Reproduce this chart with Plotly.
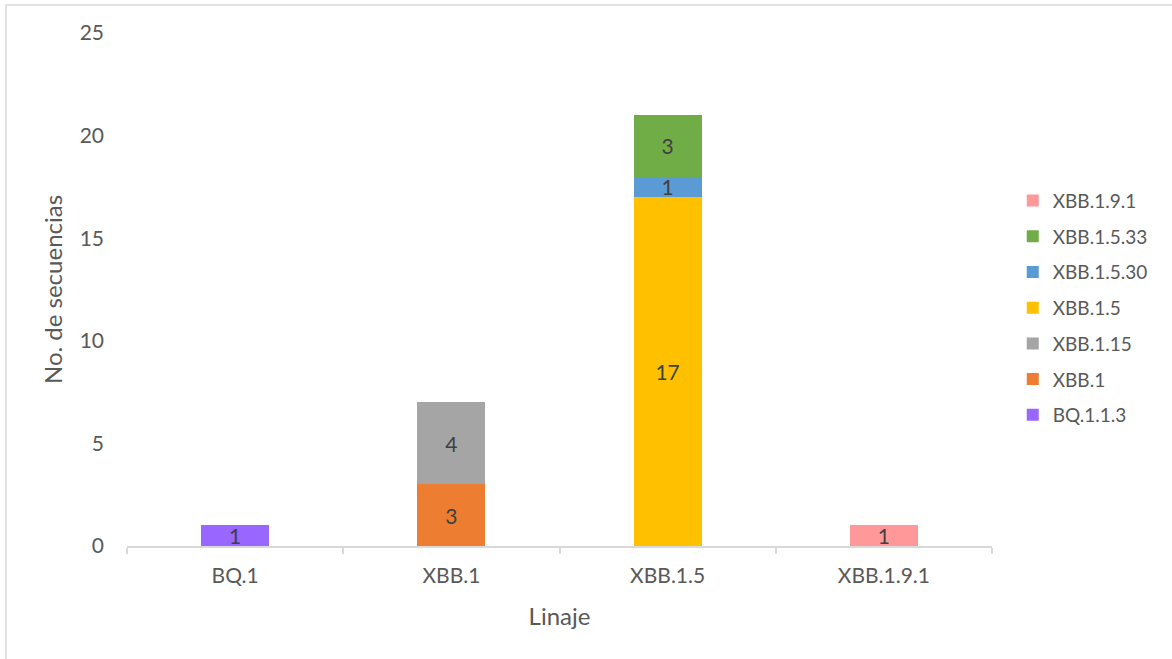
import plotly.graph_objects as go

categories = ["BQ.1", "XBB.1", "XBB.1.5", "XBB.1.9.1"]
series_names = ["BQ.1.1.3", "XBB.1", "XBB.1.15", "XBB.1.5", "XBB.1.5.30", "XBB.1.5.33", "XBB.1.9.1"]
series_values = [
    [1, None, None, None],
    [None, 3, None, None],
    [None, 4, None, None],
    [None, None, 17, None],
    [None, None, 1, None],
    [None, None, 3, None],
    [None, None, None, 1],
]
colors = ["#9966FF", "#ED7D31", "#A5A5A5", "#FFC000", "#5B9BD5", "#70AD47", "#FF9999"]
y_ticks = [0, 5, 10, 15, 20, 25]

FONT = "Lato, Open Sans, sans-serif"
TXT = "#595959"

fig = go.Figure()
n = len(series_names)
for i, (name, vals, col) in enumerate(zip(series_names, series_values, colors)):
    fig.add_trace(go.Bar(
        name=name, x=categories, y=vals, marker_color=col,
        marker_line_width=0,
        text=[str(v) if v is not None else "" for v in vals],
        textposition="inside", insidetextanchor="middle", textangle=0,
        constraintext="none",
        insidetextfont=dict(family=FONT, size=21, color="#404040"),
        legendgroup=name, legendrank=n - i,
    ))

fig.update_layout(
    barmode="stack",
    bargap=0.685,
    width=1172, height=659,
    margin=dict(l=127, r=180, t=33, b=113),
    paper_bgcolor="white", plot_bgcolor="white",
    font=dict(family=FONT, size=21, color=TXT),
    showlegend=True,
    legend=dict(
        x=1.024, y=0.71, xanchor="left", yanchor="top",
        traceorder="grouped", tracegroupgap=8,
        font=dict(family=FONT, size=19, color=TXT),
        itemwidth=30,
    ),
    xaxis=dict(
        type="category", range=[-0.5, 3.5],
        showline=True, linecolor="#D9D9D9", linewidth=1.5,
        ticks="outside", tickson="boundaries", ticklen=6, tickcolor="#D9D9D9", tickwidth=1.5,
        showgrid=False, tickfont=dict(family=FONT, size=21, color=TXT), ticklabelstandoff=10,
        title=dict(text="Linaje", font=dict(family=FONT, size=24, color=TXT), standoff=22),
    ),
    yaxis=dict(
        range=[0, 25], tickvals=y_ticks, showgrid=False, zeroline=False,
        showline=False, tickfont=dict(family=FONT, size=21, color=TXT), ticklabelstandoff=22,
        title=dict(text="No. de secuencias", font=dict(family=FONT, size=24, color=TXT), standoff=10),
    ),
    shapes=[dict(
        type="rect", xref="paper", yref="paper",
        x0=-0.1399, x1=1.22, y0=-0.25, y1=1.0546,
        line=dict(color="#D9D9D9", width=1.5), fillcolor="rgba(0,0,0,0)", layer="below",
    )],
)

fig.write_html("out.html")
